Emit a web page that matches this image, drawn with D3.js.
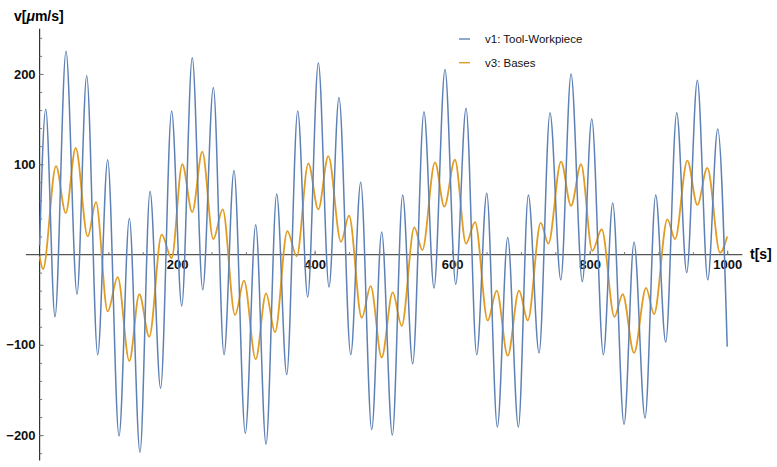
<!DOCTYPE html>
<html>
<head>
<meta charset="utf-8">
<script src="https://cdn.jsdelivr.net/npm/d3@7"></script>
<style>
  body { margin: 0; background: #fff; }
  text { font-family: "Liberation Sans", Arial, sans-serif; }
</style>
</head>
<body>
<svg id="chart"></svg>
<script>
// extrema, t in s, v in um/s
var t1 = [0, 8.9, 22.4, 38.4, 54.4, 68.5, 84.5, 99, 115.5, 130.5, 146, 160.6, 176, 192, 206.7, 222, 237.2, 252.7, 268.2, 282.7, 299.2, 314.3, 329.3, 344.8, 359.4, 375.4, 389.9, 405.4, 420.9, 435.4, 452.5, 467, 483, 497.5, 513, 528, 542.6, 559, 573.6, 589.6, 605.2, 620.2, 635.7, 650.3, 665.7, 680.8, 696.3, 710.8, 726.4, 742.3, 758, 772.9, 789.3, 803, 819.9, 833.5, 850, 864.5, 880.5, 896, 910.6, 926.6, 941.1, 956.6, 971.7, 986.2, 1000]
var v1 = [10, 161, -69, 225, -44, 198, -111, 105, -201, 40, -219, 70, -148, 159, -57, 218, -39, 185, -111, 93, -198, 33, -210, 67, -133, 159, -47, 212, -36, 174, -111, 80, -194, 25, -200, 66, -121, 158, -37, 205, -33, 162, -111, 68, -191, 19, -191, 66, -109, 157, -28, 200, -30, 150, -111, 57, -188, 14, -181, 66, -97, 157, -20, 193, -28, 139, -102]

var t3 = [0, 5, 23.9, 38, 52.5, 70, 82, 99, 113.6, 130.5, 145, 159.5, 177.5, 192, 207.5, 222, 236.6, 252.6, 266.3, 284.2, 297.3, 314.3, 329.3, 342.4, 360.3, 374, 390.8, 405.3, 419.9, 438.3, 450, 468.5, 481.5, 497.5, 513.5, 526.6, 545, 556.6, 575, 588.6, 604, 620.2, 633.3, 651.7, 664.8, 680.8, 697.2, 710, 728.8, 739.9, 758.3, 772.9, 787.4, 803.9, 817.5, 836, 848, 864.5, 882, 893.6, 913, 924.2, 942, 956.6, 971.1, 989.6, 1000]
var v3 = [-2, -16, 98, 46, 118, 20, 58, -63, -25, -118, -44, -91, 22, -4, 100, 47, 114, 17, 50, -67, -29, -116, -43, -86, 26, -2, 101, 50, 109, 14, 43, -70, -35, -114, -42, -79, 30, 5, 102, 53, 105, 12, 36, -73, -40, -112, -40, -73, 35, 12, 103, 54, 100, 4, 28, -69, -44, -109, -37, -66, 39, 17, 104, 55, 96, 2, 20]

var seriesNames = ["v1: Tool-Workpiece", "v3: Bases"]
var colors = ["#5e81b5", "#e19c24"]
var xMajor = [200, 400, 600, 800, 1000]
var yMajor = [-200, -100, 100, 200]

var width = 777
var height = 467

var svg = d3.select("#chart")
  .attr("width", width)
  .attr("height", height)

var xScale = d3.scaleLinear()
  .domain([0, 1000])
  .range([39.6, 727.2])

var yScale = d3.scaleLinear()
  .domain([-228, 250])
  .range([460.4, 28.8])

var y0 = yScale(0)
var x0 = xScale(0)

// axis lines
svg.append("line")
  .attr("x1", xScale(-20)).attr("x2", xScale(1022))
  .attr("y1", y0).attr("y2", y0)
  .attr("stroke", "#555").attr("stroke-width", 1.2)

svg.append("line")
  .attr("x1", x0).attr("x2", x0)
  .attr("y1", yScale(250)).attr("y2", yScale(-228))
  .attr("stroke", "#333").attr("stroke-width", 1.2)

// x ticks (pointing up), labels below
var xMinor = svg.append("g")
  .attr("transform", `translate(0,${y0})`)
  .call(d3.axisBottom(xScale).tickValues(d3.range(50, 1001, 50)).tickSize(-2.5).tickFormat(""))
xMinor.select(".domain").remove()

var xAxis = svg.append("g")
  .attr("transform", `translate(0,${y0})`)
  .call(d3.axisBottom(xScale).tickValues(xMajor).tickSize(-4).tickPadding(5.5).tickFormat(d3.format("d")))
xAxis.select(".domain").remove()

// y ticks (pointing right), labels left
var yMinor = svg.append("g")
  .attr("transform", `translate(${x0},0)`)
  .call(d3.axisLeft(yScale).tickValues(d3.range(-220, 241, 20)).tickSize(-2.5).tickFormat(""))
yMinor.select(".domain").remove()

var yAxis = svg.append("g")
  .attr("transform", `translate(${x0},0)`)
  .call(d3.axisLeft(yScale).tickValues(yMajor).tickSize(-4).tickPadding(4))
yAxis.select(".domain").remove()

svg.selectAll(".tick line").attr("stroke", "#777")
svg.selectAll(".tick text")
  .attr("fill", "#111")
  .style("font-size", "13px")
  .style("font-weight", "bold")

// the curves
var line = d3.line()
  .x(d => xScale(d[0]))
  .y(d => yScale(d[1]))
  .curve(d3.curveMonotoneX)

var data1 = d3.zip(t1, v1)
var data3 = d3.zip(t3, v3)

svg.append("path")
  .datum(data3)
  .attr("fill", "none")
  .attr("stroke", colors[1])
  .attr("stroke-width", 1.8)
  .attr("d", line)

svg.append("path")
  .datum(data1)
  .attr("fill", "none")
  .attr("stroke", colors[0])
  .attr("stroke-width", 1.5)
  .attr("d", line)

// axis labels
var vLabel = svg.append("text")
  .attr("x", 14)
  .attr("y", 20.7)
  .style("font-size", "14px")
  .style("font-weight", "bold")
vLabel.append("tspan").text("v[")
vLabel.append("tspan").style("font-style", "italic").text("\u03bc")
vLabel.append("tspan").text("m/s]")

svg.append("text")
  .attr("x", 750)
  .attr("y", 259)
  .style("font-size", "14px")
  .style("font-weight", "bold")
  .text("t[s]")

// legend
var legend = svg.selectAll(".legend")
  .data(seriesNames)
  .enter().append("g")
  .attr("class", "legend")
  .attr("transform", (d, i) => `translate(459,${39 + i * 23.7})`)

legend.append("line")
  .attr("x1", 0).attr("x2", 11)
  .attr("stroke", (d, i) => colors[i])
  .attr("stroke-width", 1.4)

legend.append("text")
  .attr("x", 26)
  .attr("y", 4.2)
  .style("font-size", "11.5px")
  .attr("fill", "#111")
  .text(d => d)
</script>
</body>
</html>
